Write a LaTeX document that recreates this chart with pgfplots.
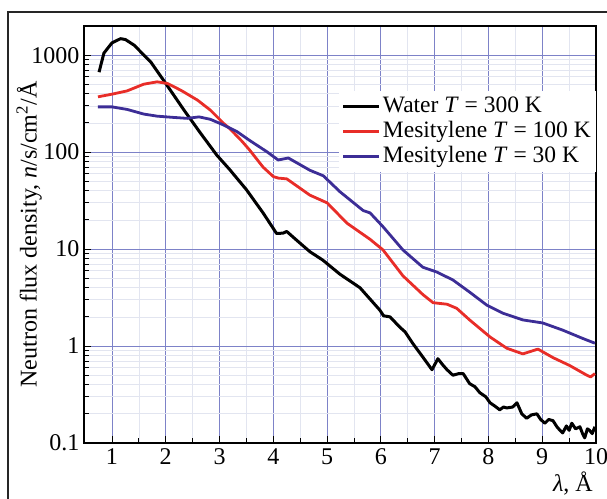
\documentclass[border=0pt]{standalone}
\usepackage{pgfplots}
\pgfplotsset{compat=1.18}
\usepackage{fontspec}
\setmainfont{Liberation Serif}
\definecolor{cred}{RGB}{232,45,40}
\definecolor{cblue}{RGB}{60,45,150}
\definecolor{gmaj}{RGB}{125,130,200}
\definecolor{gmin}{RGB}{226,229,240}
\begin{document}
\begin{tikzpicture}[x=1pt,y=1pt]
\draw[line width=1.3pt, black!85] (8,-20) rectangle (630,486);
\begin{axis}[
  at={(84pt,55pt)}, anchor=south west,
  scale only axis, width=512pt, height=417pt,
  ymode=log, xmin=0.48, xmax=10, ymin=0.1, ymax=2000,
  xtick={1,2,3,4,5,6,7,8,9,10}, minor x tick num=1,
  ytick={0.1,1,10,100,1000}, yticklabels={0.1,1,10,100,1000},
  xtick pos=bottom, ytick pos=left, tick align=inside,
  major tick length=7pt, minor tick length=5pt,
  tick style={black, line width=0.9pt},
  axis line style={black, line width=1.4pt},
  grid=both,
  major grid style={gmaj, line width=0.9pt},
  minor grid style={gmin, line width=0.7pt},
  /pgf/number format/assume math mode=true,
  ticklabel style={font=\fontsize{24}{28}\selectfont},
  xticklabel style={yshift=-2pt},
  yticklabel style={xshift=-1pt},
  log ticks with fixed point,
  xlabel={\textit{λ}, Å},
  xlabel style={font=\fontsize{24}{28}\selectfont, at={(axis description cs:1,0)}, anchor=north east, inner sep=0pt, yshift=-29pt, xshift=-3pt},
  ylabel={Neutron flux density, \textit{n}/s/cm\textsuperscript{2}/Å},
  ylabel style={font=\fontsize{24}{28}\selectfont, at={(axis description cs:-0.082,0.5)}, anchor=south, inner sep=0pt},
  legend style={at={(rel axis cs:1,0.844)}, anchor=north east, draw=none, fill=white,
    font=\fontsize{23.5}{27}\selectfont, inner sep=3pt, row sep=0pt,
    nodes={inner sep=2pt, text height=16pt, text depth=5pt}},
  legend cell align=left,
  legend image code/.code={\draw[#1, line width=3pt] (0pt,0pt) -- (36pt,0pt);},
]
\addplot[black, line width=3pt, line join=round] coordinates {
(0.76,668) (0.85,1050) (1.0,1340) (1.16,1480) (1.25,1450) (1.41,1270) (1.72,853) (2.0,511) (2.34,271) (2.65,156) (2.95,93) (3.19,66) (3.32,54) (3.5,41) (3.81,23.6) (4.06,14.5) (4.18,14.6) (4.25,15.2) (4.43,12.4) (4.68,9.4) (4.92,7.7) (5.24,5.5) (5.61,4.0) (5.98,2.35) (6.05,2.05) (6.17,2.0) (6.35,1.57) (6.45,1.4) (6.59,1.07) (6.78,0.77) (6.95,0.57) (7.06,0.74) (7.15,0.64) (7.23,0.57) (7.34,0.50) (7.45,0.52) (7.53,0.52) (7.65,0.41) (7.75,0.38) (7.84,0.33) (7.95,0.30) (8.03,0.26) (8.12,0.24) (8.21,0.22) (8.28,0.235) (8.34,0.23) (8.45,0.235) (8.53,0.26) (8.62,0.20) (8.71,0.18) (8.80,0.195) (8.90,0.20) (8.97,0.175) (9.05,0.16) (9.12,0.175) (9.20,0.17) (9.28,0.145) (9.38,0.127) (9.45,0.15) (9.50,0.135) (9.55,0.16) (9.62,0.14) (9.70,0.147) (9.75,0.125) (9.79,0.113) (9.84,0.14) (9.88,0.135) (9.93,0.125) (9.98,0.147)
};
\addlegendentry{Water \textit{T} = 300 K}
\addplot[cred, line width=2.8pt, line join=round] coordinates {
(0.74,372) (1.0,396) (1.28,428) (1.59,502) (1.84,531) (2.03,511) (2.28,435) (2.59,344) (2.83,271) (3.08,197) (3.19,175) (3.42,129) (3.56,105) (3.81,70) (4.0,56) (4.09,54) (4.25,53) (4.68,36) (5.0,30) (5.37,18.5) (5.8,12.6) (6.04,9.8) (6.41,5.3) (6.78,3.4) (6.97,2.8) (7.23,2.7) (7.41,2.45) (7.65,1.86) (8.03,1.24) (8.34,0.95) (8.64,0.83) (8.92,0.93) (9.20,0.76) (9.51,0.63) (9.83,0.50) (9.9,0.48) (9.98,0.52)
};
\addlegendentry{Mesitylene \textit{T} = 100 K}
\addplot[cblue, line width=2.8pt, line join=round] coordinates {
(0.74,293) (1.0,293) (1.28,276) (1.59,247) (1.84,235) (2.15,228) (2.40,223) (2.62,231) (2.83,218) (3.08,190) (3.33,162) (3.56,132) (3.88,101) (4.09,83) (4.28,87) (4.68,65) (4.93,57) (5.24,39) (5.67,25) (5.80,23.6) (6.04,17) (6.41,9.8) (6.78,6.5) (7.04,5.8) (7.34,4.8) (7.65,3.6) (7.97,2.64) (8.27,2.18) (8.64,1.86) (9.01,1.73) (9.38,1.46) (9.75,1.2) (9.98,1.07)
};
\addlegendentry{Mesitylene \textit{T} = 30 K}
\end{axis}
\pgfresetboundingbox
\path[use as bounding box] (0,0) rectangle (607,498);
\end{tikzpicture}
\end{document}
